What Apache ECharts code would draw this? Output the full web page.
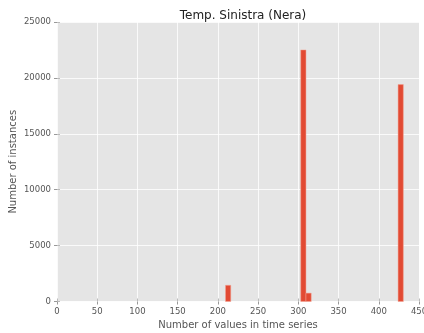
<!DOCTYPE html>
<html>
<head>
<meta charset="utf-8">
<style>
  html, body { margin: 0; padding: 0; background: #fff; }
  #chart { width: 424px; height: 333px; }
</style>
<script src="https://cdn.jsdelivr.net/npm/echarts@6/dist/echarts.min.js"></script>
</head>
<body>
<div id="chart"></div>
<script>
// Histogram bins: left edge, right edge and count of series with that many values
const binStarts = [209.5, 303, 309.5, 424];
const binEnds   = [216,   309.5, 316, 430.5];
const binCounts = [1450, 22500, 750, 19400];

const xTicks = [0, 50, 100, 150, 200, 250, 300, 350, 400, 450];
const yTicks = [0, 5000, 10000, 15000, 20000, 25000];

const titleText = 'Temp. Sinistra (Nera)';
const xName = 'Number of values in time series';
const yName = 'Number of instances';

const FONT = 'DejaVu Sans';
const GREY = '#555555';

const chart = echarts.init(document.getElementById('chart'), null, { renderer: 'canvas' });

const binData = binStarts.map((s, i) => [s, binEnds[i], binCounts[i]]);
const plain = v => String(v);

chart.setOption({
  animation: false,
  backgroundColor: '#ffffff',
  title: {
    text: titleText,
    left: 238,
    textAlign: 'center',
    top: 5,
    textStyle: { fontFamily: FONT, fontSize: 12, fontWeight: 'normal', color: '#222' }
  },
  grid: {
    left: 57, right: 5, top: 22, bottom: 31.5,
    containLabel: false, outerBoundsMode: 'none',
    show: true, backgroundColor: '#E5E5E5', borderWidth: 0
  },
  xAxis: [{
    type: 'value',
    min: xTicks[0], max: xTicks[xTicks.length - 1], interval: 50,
    name: xName, nameLocation: 'middle', nameGap: 19, nameMoveOverlap: false,
    nameTextStyle: { fontFamily: FONT, fontSize: 10, color: GREY },
    axisLine: { show: false },
    axisTick: { show: true, inside: false, length: 3, lineStyle: { color: '#999' } },
    axisLabel: { fontFamily: FONT, fontSize: 8.5, color: GREY, margin: 6, formatter: plain },
    splitLine: { show: true, lineStyle: { color: '#ffffff', width: 0.8 } }
  }, {
    type: 'value', position: 'top',
    min: xTicks[0], max: xTicks[xTicks.length - 1], interval: 50,
    axisLine: { show: false },
    axisTick: { show: true, length: 3, lineStyle: { color: '#bbb' } },
    axisLabel: { show: false },
    splitLine: { show: false }
  }],
  yAxis: [{
    type: 'value',
    min: yTicks[0], max: yTicks[yTicks.length - 1], interval: 5000,
    name: yName, nameLocation: 'middle', nameGap: 39, nameMoveOverlap: false,
    nameTextStyle: { fontFamily: FONT, fontSize: 10, color: GREY },
    axisLine: { show: false },
    axisTick: { show: true, inside: false, length: 3, lineStyle: { color: '#999' } },
    axisLabel: { fontFamily: FONT, fontSize: 8.5, color: GREY, margin: 6, formatter: plain },
    splitLine: { show: true, lineStyle: { color: '#ffffff', width: 0.8 } }
  }, {
    type: 'value', position: 'right',
    min: yTicks[0], max: yTicks[yTicks.length - 1], interval: 5000,
    axisLine: { show: false },
    axisTick: { show: true, length: 3, lineStyle: { color: '#bbb' } },
    axisLabel: { show: false },
    splitLine: { show: false }
  }],
  series: [{
    type: 'custom',
    xAxisIndex: 0, yAxisIndex: 0,
    data: binData,
    encode: { x: [0, 1], y: 2 },
    renderItem: function (params, api) {
      const p0 = api.coord([api.value(0), api.value(2)]);
      const p1 = api.coord([api.value(1), 0]);
      return {
        type: 'rect',
        shape: { x: p0[0], y: p0[1], width: p1[0] - p0[0], height: p1[1] - p0[1] },
        style: { fill: '#E24A33', stroke: '#F2A090', lineWidth: 0.5 }
      };
    }
  }]
});
</script>
</body>
</html>
